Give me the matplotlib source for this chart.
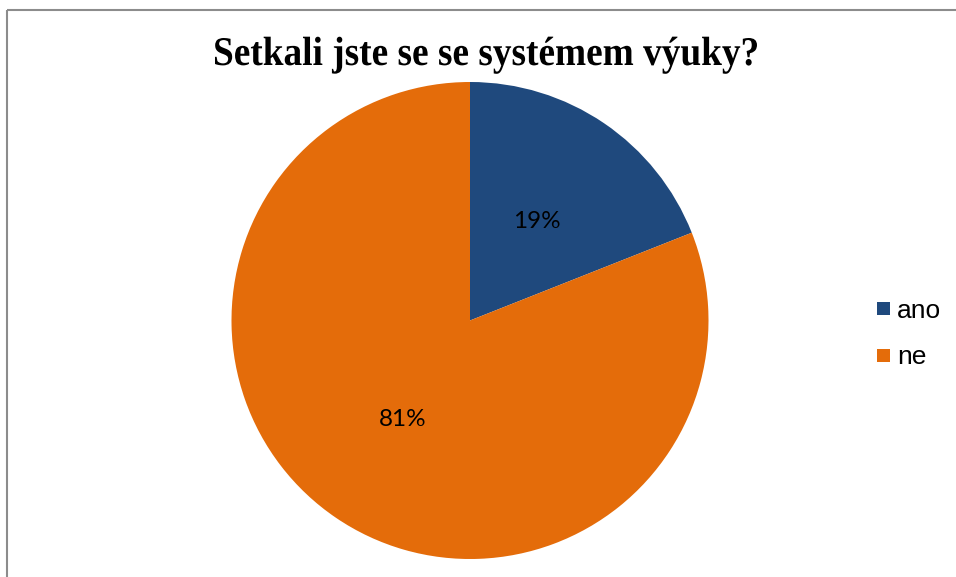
import matplotlib
matplotlib.use("Agg")
import matplotlib.pyplot as plt
from matplotlib.patches import Rectangle, PathPatch
from matplotlib.textpath import TextPath
from matplotlib.font_manager import FontProperties
from matplotlib.transforms import Affine2D

categories = ["ano", "ne"]
values = [19, 81]
colors = ["#1F497D", "#E46C0A"]
title = "Setkali jste se se systémem výuky?"

W, H = 956, 577
fig = plt.figure(figsize=(W / 100, H / 100), dpi=100)
ax = fig.add_axes([0, 0, 1, 1])

ax.pie(
    values, colors=colors, startangle=-90, counterclock=True,
    center=(470, 320.5), radius=238.5, autopct="%1.0f%%", pctdistance=0.5,
    textprops=dict(fontsize=17.5, family="Lato", color="#000000"),
    frame=True,
)
ax.set_xlim(0, W)
ax.set_ylim(H, 0)
ax.set_aspect("equal")
ax.axis("off")

# chart frame
ax.add_patch(Rectangle((7, 10), W + 20, H + 20, fill=False, edgecolor="#8c8c8c", lw=1.5))

# condensed bold serif title
tp = TextPath((0, 0), title, size=40.8, prop=FontProperties(family="Liberation Serif", weight="bold"))
ext = tp.get_extents()
target_w = 542
sx = target_w / ext.width
cx = 486
tr = Affine2D().translate(-ext.x0 - ext.width / 2, 0).scale(sx, -1).translate(cx, 65)
ax.add_patch(PathPatch(tr.transform_path(tp), facecolor="black", edgecolor="none"))

# legend
for i, (lab, c) in enumerate(zip(categories, colors)):
    y = 308.5 + i * 46.5
    ax.add_patch(Rectangle((877, y - 6.5), 13, 13, facecolor=c, edgecolor="none"))
    ax.text(897, y, lab, ha="left", va="center_baseline", fontsize=19,
            family="Liberation Sans", color="black")

fig.savefig("out.png", dpi=100)
